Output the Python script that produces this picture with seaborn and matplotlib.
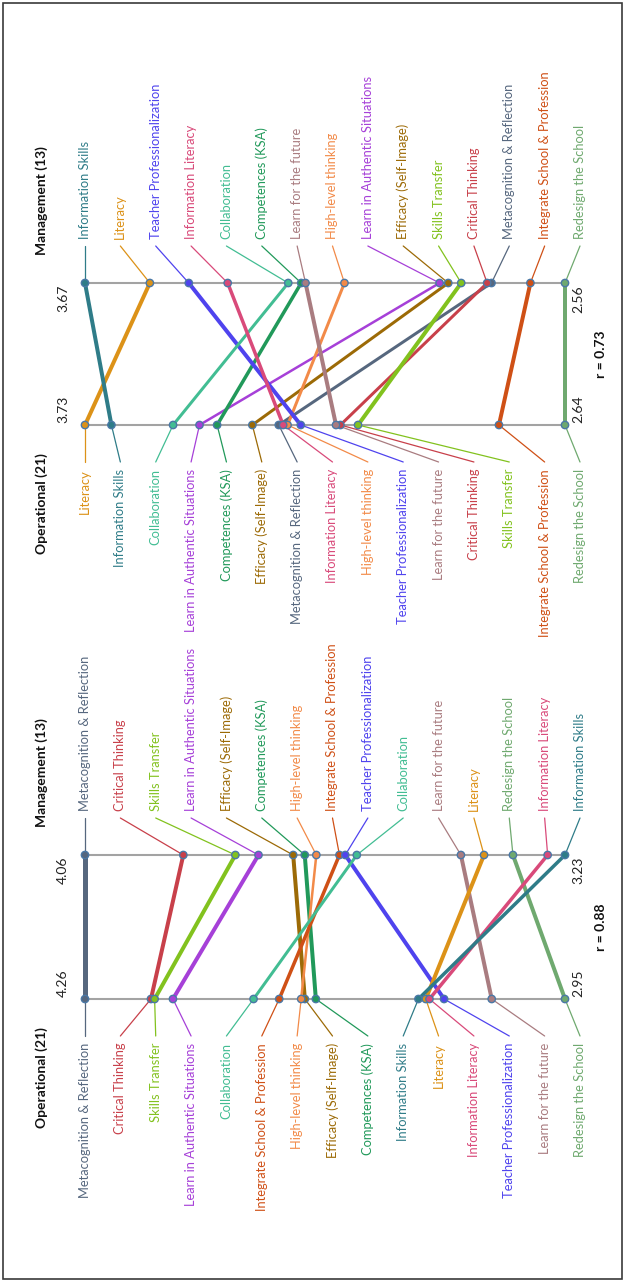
import numpy as np
import pandas as pd
import matplotlib.pyplot as plt
from matplotlib.patches import Rectangle
import seaborn as sns

# competencies, same order in every array below
skills = ['Metacognition & Reflection', 'Critical Thinking', 'Skills Transfer',
          'Learn in Authentic Situations', 'Efficacy (Self-Image)', 'Competences (KSA)',
          'High-level thinking', 'Integrate School & Profession', 'Teacher Professionalization',
          'Collaboration', 'Learn for the future', 'Literacy', 'Redesign the School',
          'Information Literacy', 'Information Skills']

group_mgmt = 'Management (13)'
group_oper = 'Operational (21)'

# upper chart (r = 0.73)
top_mgmt = [2.73, 2.74, 2.80, 2.85, 2.83, 3.17, 3.07, 2.64, 3.43, 3.20, 3.16, 3.52, 2.56, 3.34, 3.67]
top_oper = [3.29, 3.15, 3.11, 3.47, 3.35, 3.43, 3.27, 2.79, 3.24, 3.53, 3.16, 3.73, 2.64, 3.28, 3.67]
top_r = 0.73

# lower chart (r = 0.88)
bot_mgmt = [4.06, 3.89, 3.80, 3.76, 3.70, 3.68, 3.66, 3.62, 3.61, 3.59, 3.41, 3.37, 3.32, 3.26, 3.23]
bot_oper = [4.26, 4.08, 4.07, 4.02, 3.66, 3.63, 3.67, 3.73, 3.28, 3.80, 3.15, 3.33, 2.95, 3.32, 3.35]
bot_r = 0.88

# styles
colors = ['#56677e', '#c8404a', '#82c21e', '#a640d8', '#9c6a06', '#21995a',
          '#f28a48', '#cf5016', '#4f43ee', '#42bd93', '#a97c80', '#dc9218',
          '#6fa96f', '#d94a7a', '#2f7c88']
palette = dict(zip(skills, colors))
top_w_px = [3, 3, 4, 2.5, 3, 3.5, 3, 4, 4, 3, 4, 4, 4, 3.5, 4]
bot_w_px = [5, 4, 4, 4, 4, 4, 2.5, 3.5, 4, 3, 4, 4, 4, 3.5, 3.5]

W, H = 625, 1281
X0, X1 = 85, 565          # pixel ends of each value axis
SLOT_END = 580            # last label slot

sns.set_theme(style='white')
plt.rcParams['font.family'] = ['Lato', 'DejaVu Sans']

fig = plt.figure(figsize=(W / 100, H / 100), dpi=100)


def draw_panel(mgmt, oper, r, y_m, y_o, top_px, bot_px, widths_px):
    ax = fig.add_axes([0, 1 - bot_px / H, 1, (bot_px - top_px) / H])
    span = X1 - X0
    scale = y_o - y_m
    ax.set_xlim(-X0 / span, (W - X0) / span)
    ax.set_ylim((bot_px - y_m) / scale, (top_px - y_m) / scale)
    ax.axis('off')

    mgmt = np.array(mgmt)
    oper = np.array(oper)
    t_m = (mgmt.max() - mgmt) / (mgmt.max() - mgmt.min())
    t_o = (oper.max() - oper) / (oper.max() - oper.min())

    # the two value axes
    ax.plot([0, 1], [0, 0], color='#a3a3a3', lw=1.5, zorder=1)
    ax.plot([0, 1], [1, 1], color='#a3a3a3', lw=1.5, zorder=1)

    df = pd.DataFrame({
        'skill': skills * 2,
        't': np.concatenate([t_m, t_o]),
        'level': [0] * len(skills) + [1] * len(skills),
    })
    sizes = {s: w * 0.72 for s, w in zip(skills, widths_px)}
    sns.lineplot(data=df, x='t', y='level', hue='skill', size='skill',
                 palette=palette, sizes=sizes, estimator=None, sort=False,
                 legend=False, ax=ax, zorder=2)
    sns.scatterplot(data=df, x='t', y='level', hue='skill', palette=palette,
                    s=28, edgecolor='#4a78a6', linewidth=1.0, legend=False,
                    ax=ax, zorder=4)

    slots = np.linspace(0, (SLOT_END - X0) / span, len(skills))
    lead = 37 / scale
    gap = 7 / scale
    fsz = 9.3

    for rank, i in enumerate(np.argsort(-mgmt, kind='stable')):
        c = colors[i]
        ax.plot([t_m[i], slots[rank]], [0, -lead], color=c, lw=0.9, zorder=1.5)
        ax.text(slots[rank], -lead - gap, skills[i], rotation=90, ha='center',
                va='bottom', color=c, fontsize=fsz)
    for rank, i in enumerate(np.argsort(-oper, kind='stable')):
        c = colors[i]
        ax.plot([t_o[i], slots[rank]], [1, 1 + lead], color=c, lw=0.9, zorder=1.5)
        ax.text(slots[rank], 1 + lead + gap, skills[i], rotation=90, ha='center',
                va='top', color=c, fontsize=fsz)

    # group titles
    tx = (42 - X0) / span
    ax.text(tx, -28 / scale, group_mgmt, rotation=90, ha='center', va='bottom',
            fontsize=10, fontweight='bold', color='#111111')
    ax.text(tx, 1 + 28 / scale, group_oper, rotation=90, ha='center', va='top',
            fontsize=10, fontweight='bold', color='#111111')

    # end values
    lx = (63 - X0) / span
    rx = (578 - X0) / span
    ax.text(lx, 2 / scale, f'{mgmt.max():.2f}', rotation=90, ha='center', va='top',
            fontsize=10, color='#222222')
    ax.text(lx, 1 - 2 / scale, f'{oper.max():.2f}', rotation=90, ha='center',
            va='bottom', fontsize=10, color='#222222')
    ax.text(rx, 2 / scale, f'{mgmt.min():.2f}', rotation=90, ha='center', va='top',
            fontsize=10, color='#222222')
    ax.text(rx, 1 - 2 / scale, f'{oper.min():.2f}', rotation=90, ha='center',
            va='bottom', fontsize=10, color='#222222')
    ax.text((601 - X0) / span, 0.5, f'r = {r:.2f}', rotation=90, ha='center',
            va='center', fontsize=10, fontweight='bold', color='#111111')


draw_panel(top_mgmt, top_oper, top_r, 283, 425, 0, 640, top_w_px)
draw_panel(bot_mgmt, bot_oper, bot_r, 855, 999, 640, H, bot_w_px)

fig.patches.append(Rectangle((3 / W, 2 / H), 619 / W, 1276 / H, transform=fig.transFigure,
                             fill=False, edgecolor='#3a3a3a', linewidth=1.2))

fig.savefig('out.png', dpi=100, facecolor='white')
